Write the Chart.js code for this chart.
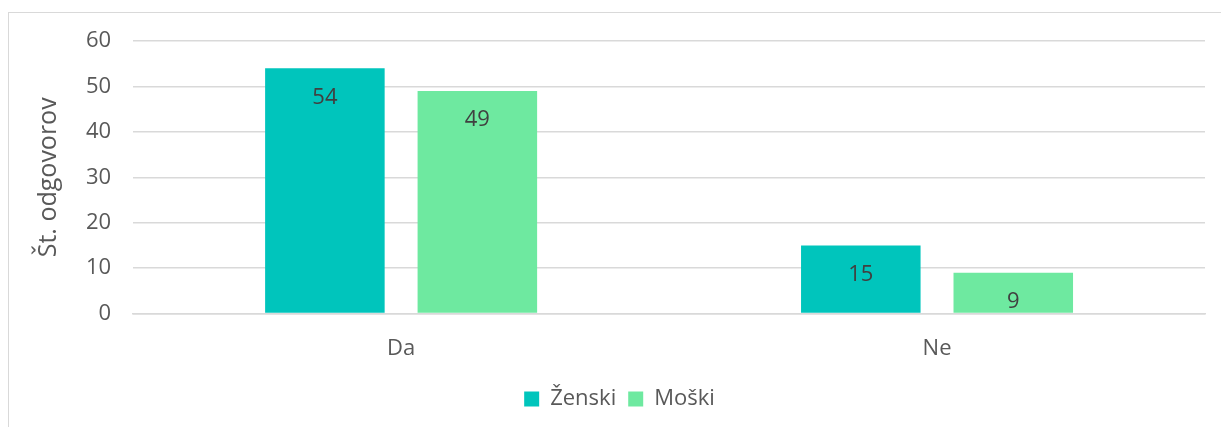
<!DOCTYPE html>
<html>
<head>
<meta charset="utf-8">
<script src="https://cdn.jsdelivr.net/npm/chart.js@4/dist/chart.umd.min.js"></script>
<style>
    html, body { margin: 0; padding: 0; background: #fff; }
    #frame { position: absolute; left: 8px; top: 12px; width: 1300px; height: 500px; border-left: 1px solid #d9d9d9; border-top: 1px solid #d9d9d9; }
    #wrap { position: absolute; left: 0; top: 0; width: 1221px; height: 427px; }
</style>
</head>
<body>
<div id="frame"></div>
<div id="wrap"><canvas id="chart"></canvas></div>
<script>
const categories = ["Da", "Ne"];
const zenski = [54, 15];
const moski = [49, 9];
const y_ticks = [0, 10, 20, 30, 40, 50, 60];

const font_family = "'Open Sans', sans-serif";
const text_color = "#595959";

// labels inside the top of each bar
const bar_labels = {
    id: "bar_labels",
    afterDatasetsDraw(chart) {
        const ctx = chart.ctx;
        ctx.save();
        ctx.font = "22px " + font_family;
        ctx.fillStyle = "#404040";
        ctx.textAlign = "center";
        ctx.textBaseline = "middle";
        chart.data.datasets.forEach((ds, i) => {
            chart.getDatasetMeta(i).data.forEach((bar, j) => {
                ctx.fillText(ds.data[j], bar.x, bar.y + 29);
            });
        });
        ctx.restore();
    }
};

new Chart(document.getElementById("chart"), {
    type: "bar",
    data: {
        labels: categories,
        datasets: [{
            label: "Ženski",
            data: zenski,
            backgroundColor: "#00C5BC",
            categoryPercentage: 0.569,
            barPercentage: 0.784
        }, {
            label: "Moški",
            data: moski,
            backgroundColor: "#6EE9A0",
            categoryPercentage: 0.569,
            barPercentage: 0.784
        }]
    },
    options: {
        responsive: true,
        maintainAspectRatio: false,
        animation: false,
        layout: { padding: { left: 34, right: 16, top: 41, bottom: 7 } },
        plugins: {
            legend: {
                position: "bottom",
                labels: {
                    color: text_color,
                    font: { family: font_family, size: 22 },
                    boxWidth: 15,
                    boxHeight: 15,
                    padding: 12
                }
            },
            tooltip: { enabled: false }
        },
        scales: {
            x: {
                grid: { display: false },
                border: { display: true, color: "#d9d9d9", width: 1.5 },
                ticks: { color: text_color, font: { family: font_family, size: 22 }, padding: 14 }
            },
            y: {
                min: 0,
                max: 60,
                afterBuildTicks(axis) { axis.ticks = y_ticks.map(v => ({ value: v })); },
                grid: { color: "#d9d9d9", lineWidth: 1.5, drawTicks: false },
                border: { display: false },
                ticks: { color: text_color, font: { family: font_family, size: 22 }, padding: 22 },
                title: {
                    display: true,
                    text: "Št. odgovorov",
                    color: text_color,
                    font: { family: font_family, size: 25 },
                    padding: { top: 0, bottom: 0 }
                }
            }
        }
    },
    plugins: [bar_labels]
});
</script>
</body>
</html>
